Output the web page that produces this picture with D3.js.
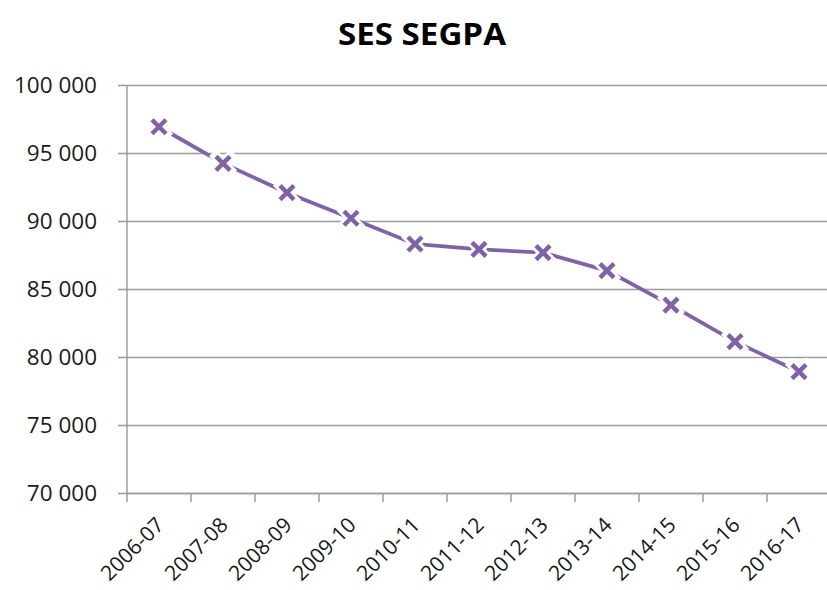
<!DOCTYPE html>
<html>
<head>
  <script src="https://cdn.jsdelivr.net/npm/d3@7"></script>
  <style>
    body { margin: 0; background: #fff; }
    text { font-family: "Open Sans", "DejaVu Sans", sans-serif; fill: #1a1a1a; }
  </style>
</head>
<title>SES SEGPA</title>
<body>
  <script>
    var width = 827, height = 590;

    var categories = ["2006-07", "2007-08", "2008-09", "2009-10", "2010-11", "2011-12",
                      "2012-13", "2013-14", "2014-15", "2015-16", "2016-17"];
    var values = [96930, 94240, 92080, 90200, 88310, 87920, 87670, 86350, 83820, 81130, 78920];
    var yTicks = [70000, 75000, 80000, 85000, 90000, 95000, 100000];

    var plotL = 127, plotR = 831, plotT = 85, plotB = 493;
    var purple = "#7e63a6", grey = "#9c9c9c";

    var svg = d3.select("body")
      .append("svg")
      .attr("width", width)
      .attr("height", height);

    var x = d3.scaleBand().domain(categories).range([plotL, plotR]);
    var y = d3.scaleLinear().domain([70000, 100000]).range([plotB, plotT]);

    var fmt = d => d3.format(",")(d).replace(/,/g, " ");

    // title
    svg.append("text")
      .attr("x", 422)
      .attr("y", 45)
      .attr("text-anchor", "middle")
      .style("font-size", "30px")
      .style("font-weight", "bold")
      .attr("textLength", 168)
      .attr("lengthAdjust", "spacingAndGlyphs")
      .style("fill", "#000")
      .text("SES SEGPA");

    // y grid + labels
    var yAxis = svg.append("g")
      .attr("transform", `translate(${plotL},0)`)
      .call(d3.axisLeft(y).tickValues(yTicks).tickFormat(fmt)
        .tickSize(-(plotR - plotL)).tickSizeOuter(0));
    yAxis.select(".domain").remove();
    yAxis.selectAll(".tick line").attr("stroke", grey).attr("stroke-width", 1.5)
      .attr("x1", -9);
    yAxis.selectAll(".tick text")
      .attr("x", -30)
      .attr("text-anchor", "end")
      .style("font-size", "22.5px")
      .attr("dy", "0.35em")
      .style("fill", "#1a1a1a");

    // vertical axis line
    svg.append("line")
      .attr("x1", plotL).attr("x2", plotL)
      .attr("y1", plotT).attr("y2", plotB + 9)
      .attr("stroke", grey).attr("stroke-width", 1.5);

    // x axis
    var xAxis = svg.append("g")
      .attr("transform", `translate(0,${plotB})`)
      .call(d3.axisBottom(x).tickSize(0).tickSizeOuter(0));
    xAxis.select(".domain").attr("stroke", grey).attr("stroke-width", 1.5);
    xAxis.selectAll(".tick text")
      .style("font-size", "21px")
      .style("fill", "#1a1a1a")
      .attr("text-anchor", "end")
      .attr("x", 0)
      .attr("y", 0)
      .attr("dy", "0.35em")
      .attr("transform", "translate(1,28) rotate(-45)");

    // category boundary ticks
    svg.append("g")
      .selectAll("line")
      .data(categories)
      .enter().append("line")
      .attr("x1", d => x(d) + x.bandwidth())
      .attr("x2", d => x(d) + x.bandwidth())
      .attr("y1", plotB)
      .attr("y2", plotB + 9)
      .attr("stroke", grey)
      .attr("stroke-width", 1.5);

    var cx = (d, i) => x(categories[i]) + x.bandwidth() / 2;

    var line = d3.line()
      .x((d, i) => cx(d, i))
      .y(d => y(d));

    svg.append("path")
      .datum(values)
      .attr("fill", "none")
      .attr("stroke", purple)
      .attr("stroke-width", 3.8)
      .attr("d", line);

    var s = 7;
    var marker = svg.append("g")
      .selectAll("g")
      .data(values)
      .enter().append("g")
      .attr("transform", (d, i) => `translate(${cx(d, i)},${y(d)})`);

    var cross = `M${-s},${-s}L${s},${s}M${-s},${s}L${s},${-s}`;
    marker.append("path")
      .attr("d", cross)
      .attr("stroke", "#fff")
      .attr("stroke-width", 10)
      .attr("stroke-linecap", "square");
    marker.append("path")
      .attr("d", cross)
      .attr("stroke", purple)
      .attr("stroke-width", 4.5);
  </script>
</body>
</html>
